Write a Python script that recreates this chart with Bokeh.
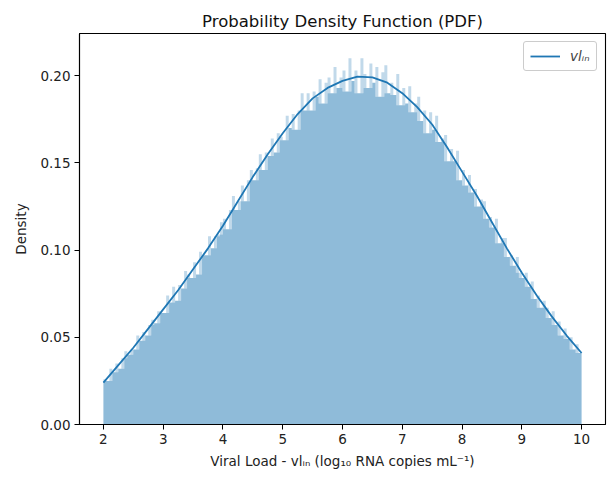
import numpy as np
from bokeh.plotting import figure
from bokeh.models import FixedTicker, NumeralTickFormatter, Range1d, Legend, LegendItem
from bokeh.embed import file_html
from bokeh.resources import INLINE

# ---- data ----
bin_start = 2.0
bin_stop = 10.0
# histogram densities, bins of width 0.05 from 2.0 to 10.0
density = [
    0.026, 0.025, 0.032, 0.030, 0.035, 0.032, 0.038, 0.042, 0.040, 0.043,
    0.043, 0.051, 0.048, 0.053, 0.051, 0.057, 0.060, 0.058, 0.065, 0.064,
    0.064, 0.074, 0.070, 0.079, 0.071, 0.080, 0.078, 0.088, 0.086, 0.084,
    0.093, 0.086, 0.099, 0.097, 0.097, 0.108, 0.101, 0.108, 0.109, 0.116,
    0.118, 0.112, 0.123, 0.131, 0.123, 0.128, 0.137, 0.128, 0.140, 0.146,
    0.140, 0.147, 0.155, 0.146, 0.156, 0.154, 0.164, 0.156, 0.167, 0.165,
    0.163, 0.177, 0.170, 0.178, 0.169, 0.180, 0.190, 0.180, 0.190, 0.180,
    0.191, 0.188, 0.198, 0.184, 0.196, 0.199, 0.190, 0.205, 0.193, 0.199,
    0.203, 0.191, 0.210, 0.197, 0.203, 0.190, 0.210, 0.201, 0.193, 0.207,
    0.196, 0.205, 0.188, 0.202, 0.206, 0.190, 0.196, 0.189, 0.201, 0.183,
    0.193, 0.184, 0.194, 0.179, 0.184, 0.188, 0.174, 0.180, 0.167, 0.179,
    0.169, 0.177, 0.162, 0.164, 0.166, 0.151, 0.158, 0.151, 0.157, 0.140,
    0.146, 0.137, 0.143, 0.133, 0.135, 0.125, 0.129, 0.128, 0.118, 0.119,
    0.113, 0.118, 0.104, 0.107, 0.107, 0.096, 0.097, 0.091, 0.096, 0.087,
    0.084, 0.087, 0.079, 0.082, 0.072, 0.074, 0.067, 0.071, 0.067, 0.061,
    0.065, 0.057, 0.059, 0.051, 0.055, 0.049, 0.050, 0.043, 0.046, 0.041,
]
kde_x = [2.0, 2.25, 2.5, 2.75, 3.0, 3.25, 3.5, 3.75, 4.0, 4.25, 4.5, 4.75,
         5.0, 5.25, 5.5, 5.75, 6.0, 6.25, 6.5, 6.75, 7.0, 7.25, 7.5, 7.75,
         8.0, 8.25, 8.5, 8.75, 9.0, 9.25, 9.5, 9.75, 10.0]
kde_y = [0.024, 0.034, 0.044, 0.055, 0.066, 0.077, 0.089, 0.101, 0.114, 0.128,
         0.142, 0.155, 0.167, 0.178, 0.187, 0.193, 0.197, 0.1995, 0.199, 0.196,
         0.190, 0.182, 0.172, 0.159, 0.145, 0.131, 0.116, 0.101, 0.087, 0.074,
         0.062, 0.051, 0.041]
x_ticks = [2, 3, 4, 5, 6, 7, 8, 9, 10]
y_ticks = [0.0, 0.05, 0.10, 0.15, 0.20]

title_text = "Probability Density Function (PDF)"
x_label = "Viral Load - vl\u1d62\u2099 (log\u2081\u2080 RNA copies mL\u207b\u00b9)"
y_label = "Density"
legend_label = "vl\u1d62\u2099"

# ---- build ----
d = np.array(density)
edges = np.linspace(bin_start, bin_stop, len(d) + 1)
# lower envelope (where the thin bars all overlap -> solid colour)
padded = np.concatenate([[d[0]], d, [d[-1]]])
env = np.minimum(np.minimum(padded[:-2], padded[1:-1]), padded[2:])
step_d = np.append(d, d[-1])
step_env = np.append(env, env[-1])

FONT = "DejaVu Sans"
BLUE = "#1f77b4"

p = figure(width=608, height=478, output_backend="svg", toolbar_location=None,
           x_range=Range1d(1.6, 10.4), y_range=Range1d(0, 0.2242),
           frame_width=526, frame_height=391,
           min_border_left=79, min_border_right=3, min_border_top=33, min_border_bottom=54)
p.background_fill_color = "white"
p.border_fill_color = "white"
p.grid.visible = False
p.outline_line_color = "black"
p.outline_line_width = 1.1

# solid part of the histogram
p.varea_step(x=edges, y1=np.zeros(len(edges)), y2=step_env, step_mode="after",
             fill_color=BLUE, fill_alpha=0.5)
# thin, lighter bar tips
p.varea_step(x=edges, y1=step_env, y2=step_d, step_mode="after",
             fill_color=BLUE, fill_alpha=0.28)
line = p.line(kde_x, kde_y, line_color=BLUE, line_width=1.8)

p.title.text = title_text
p.title.align = "center"
p.title.text_font = FONT
p.title.text_font_size = "16.5px"
p.title.text_font_style = "normal"
p.title.text_color = "#111111"
p.title.standoff = 6

for ax in (p.xaxis[0], p.yaxis[0]):
    ax.major_label_text_font = FONT
    ax.major_label_text_font_size = "13.5px"
    ax.major_label_text_color = "#222222"
    ax.axis_label_text_font = FONT
    ax.axis_label_text_font_size = "13.5px"
    ax.axis_label_text_font_style = "normal"
    ax.axis_label_text_color = "#222222"
    ax.axis_line_color = "black"
    ax.axis_line_width = 1.1
    ax.major_tick_line_color = "black"
    ax.major_tick_in = 0
    ax.major_tick_out = 5
    ax.minor_tick_line_color = None
    ax.major_label_standoff = 4

p.xaxis.ticker = FixedTicker(ticks=x_ticks)
p.yaxis.ticker = FixedTicker(ticks=y_ticks)
p.yaxis.formatter = NumeralTickFormatter(format="0.00")
p.xaxis.axis_label = x_label
p.yaxis.axis_label = y_label
p.xaxis.axis_label_standoff = 6
p.yaxis.axis_label_standoff = 8

legend = Legend(items=[LegendItem(label=legend_label, renderers=[line])],
                location="top_right")
legend.label_text_font = FONT
legend.label_text_font_size = "13.5px"
legend.label_text_font_style = "italic"
legend.border_line_color = "#cccccc"
legend.border_line_alpha = 1
legend.border_radius = 3
legend.background_fill_alpha = 0.8
legend.glyph_width = 30
legend.glyph_height = 14
legend.padding = 6
legend.margin = 8
legend.spacing = 0
legend.label_standoff = 10
p.add_layout(legend)

open("out.html", "w").write(file_html(p, INLINE))
